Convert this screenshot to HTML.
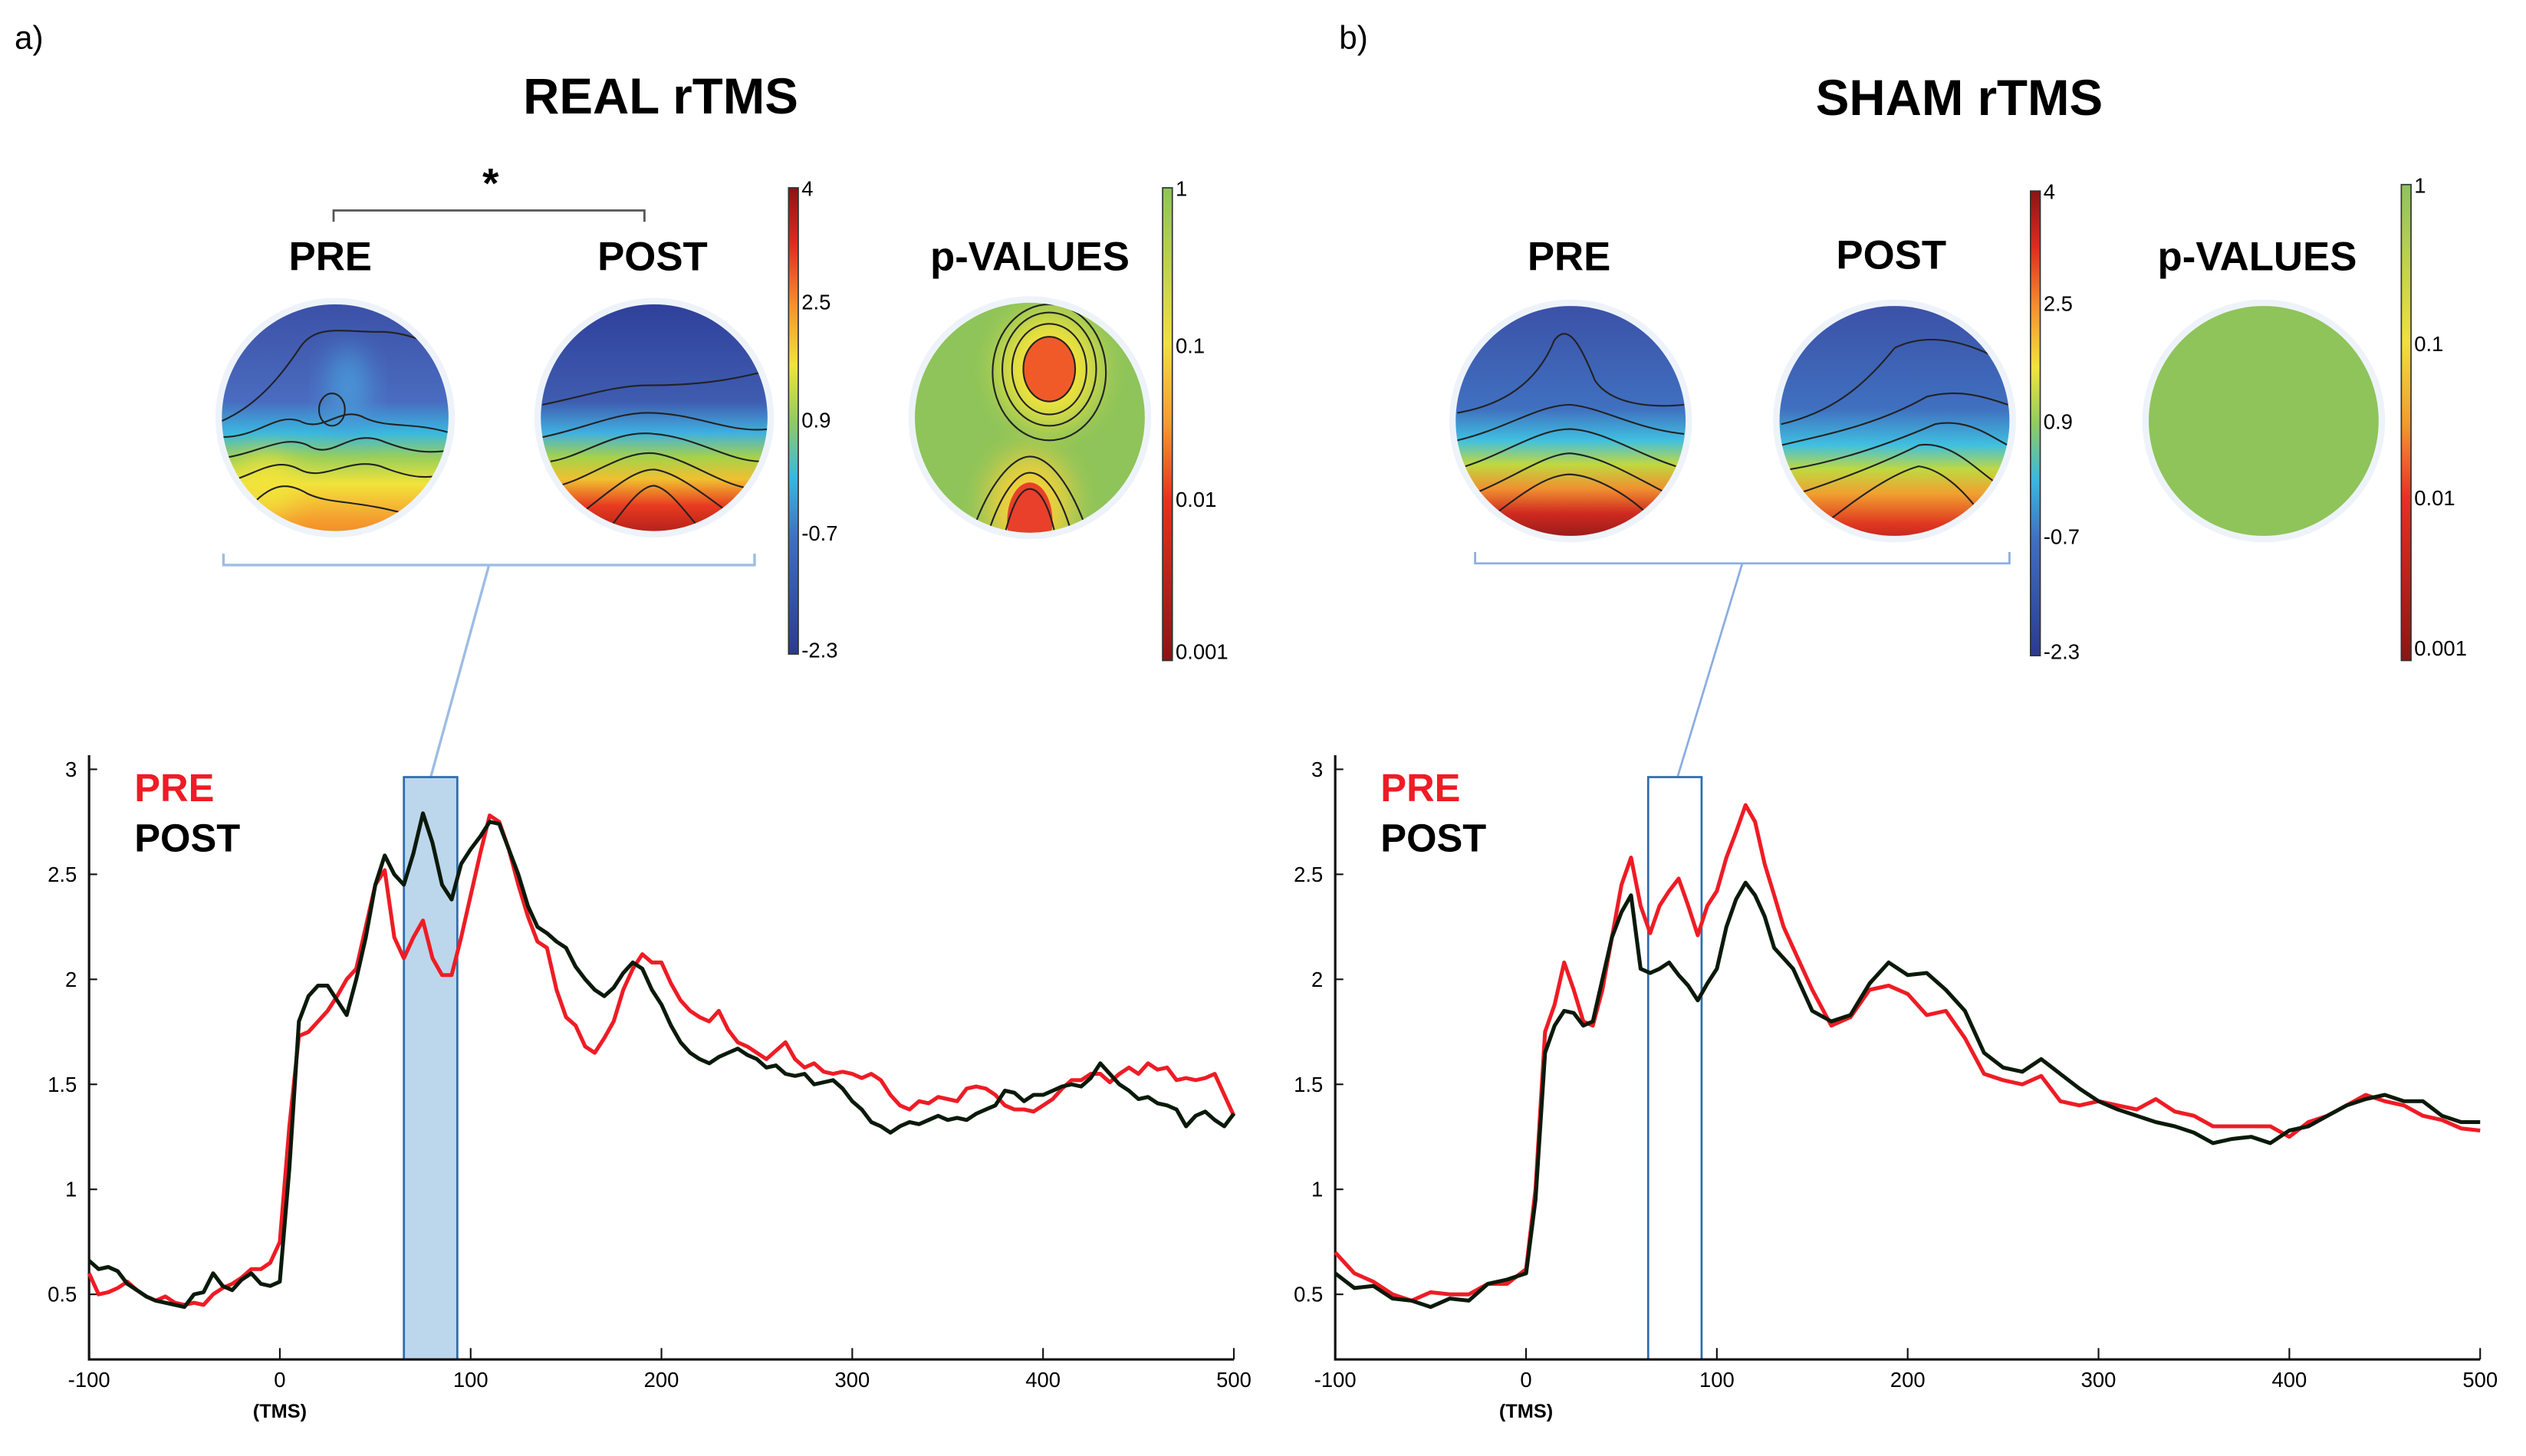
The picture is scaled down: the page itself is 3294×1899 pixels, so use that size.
<!DOCTYPE html>
<html><head><meta charset="utf-8"><style>
html,body{margin:0;padding:0;background:#fff}
svg{display:block}
text{font-family:"Liberation Sans",sans-serif}
</style></head><body>
<svg id="fig" width="3294" height="1899" viewBox="0 0 1560 899.35" xmlns="http://www.w3.org/2000/svg">
<defs>
<filter id="blur" x="-50%" y="-50%" width="200%" height="200%"><feGaussianBlur stdDeviation="9"/></filter>
<linearGradient id="jet" x1="0" y1="0" x2="0" y2="1">
<stop offset="0" stop-color="#8a1515"/><stop offset="0.12" stop-color="#e02a20"/><stop offset="0.25" stop-color="#f59030"/><stop offset="0.38" stop-color="#f2e43a"/><stop offset="0.5" stop-color="#90cc60"/><stop offset="0.62" stop-color="#3ab8e0"/><stop offset="0.75" stop-color="#3f70c0"/><stop offset="1" stop-color="#2a3a90"/></linearGradient>
<linearGradient id="pbar" x1="0" y1="0" x2="0" y2="1">
<stop offset="0" stop-color="#8ec45a"/><stop offset="0.33" stop-color="#f0e040"/><stop offset="0.5" stop-color="#f59a30"/><stop offset="0.66" stop-color="#e83020"/><stop offset="1" stop-color="#8a1515"/></linearGradient>
<linearGradient id="gRPre" x1="0" y1="0" x2="0" y2="1"><stop offset="0" stop-color="#3b4fa5"/><stop offset="0.42" stop-color="#4a6cc0"/><stop offset="0.55" stop-color="#3ab8e0"/><stop offset="0.65" stop-color="#9acf5a"/><stop offset="0.76" stop-color="#f2e33a"/><stop offset="0.9" stop-color="#f5a030"/><stop offset="1" stop-color="#f08020"/></linearGradient>
<linearGradient id="gRPost" x1="0" y1="0" x2="0" y2="1"><stop offset="0" stop-color="#2e3f9a"/><stop offset="0.42" stop-color="#3f5cb0"/><stop offset="0.55" stop-color="#40b0e0"/><stop offset="0.65" stop-color="#a6d24a"/><stop offset="0.74" stop-color="#f0c030"/><stop offset="0.85" stop-color="#e83a20"/><stop offset="1" stop-color="#a01818"/></linearGradient>
<linearGradient id="gSPre" x1="0" y1="0" x2="0" y2="1"><stop offset="0" stop-color="#3b4fa5"/><stop offset="0.45" stop-color="#4070c0"/><stop offset="0.58" stop-color="#40c0e0"/><stop offset="0.68" stop-color="#c0d840"/><stop offset="0.78" stop-color="#f09030"/><stop offset="0.88" stop-color="#d02a20"/><stop offset="1" stop-color="#8c1818"/></linearGradient>
<linearGradient id="gSPost" x1="0" y1="0" x2="0" y2="1"><stop offset="0" stop-color="#3b4fa5"/><stop offset="0.45" stop-color="#4070c0"/><stop offset="0.6" stop-color="#40c0e0"/><stop offset="0.7" stop-color="#c0d840"/><stop offset="0.8" stop-color="#f0a030"/><stop offset="0.92" stop-color="#e03a20"/><stop offset="1" stop-color="#c02020"/></linearGradient>
<clipPath id="c1"><circle cx="207" cy="258" r="70"/></clipPath>
<clipPath id="c2"><circle cx="404" cy="258" r="70"/></clipPath>
<clipPath id="c3"><circle cx="636" cy="258" r="71"/></clipPath>
<clipPath id="c4"><circle cx="970" cy="260" r="71"/></clipPath>
<clipPath id="c5"><circle cx="1170" cy="260" r="71"/></clipPath>
</defs>

<text x="9" y="30" font-size="20">a)</text>
<text x="827" y="30" font-size="20">b)</text>
<text x="408" y="70" font-size="31" font-weight="bold" text-anchor="middle">REAL rTMS</text>
<text x="1210" y="71" font-size="31" font-weight="bold" text-anchor="middle">SHAM rTMS</text>

<text x="303" y="122" font-size="26" font-weight="bold" text-anchor="middle">*</text>
<path d="M206,137 V130 H398 V137" fill="none" stroke="#555" stroke-width="1.3"/>
<text x="204" y="167" font-size="25" font-weight="bold" text-anchor="middle">PRE</text>
<text x="403" y="167" font-size="25" font-weight="bold" text-anchor="middle">POST</text>
<text x="636" y="167" font-size="25" font-weight="bold" text-anchor="middle">p-VALUES</text>

<g>
<circle cx="207" cy="258" r="74" fill="#eef3fa"/>
<g clip-path="url(#c1)"><rect x="130" y="185" width="160" height="150" fill="url(#gRPre)"/>
<ellipse cx="215" cy="240" rx="12" ry="25" fill="#4a9ad8" filter="url(#blur)"/>
<ellipse cx="165" cy="300" rx="18" ry="18" fill="#f2e33a" filter="url(#blur)"/>
<path d="M137,260 C160,250 175,230 185,215 C195,200 210,205 235,205 C255,205 270,215 280,220" fill="none" stroke="#222" stroke-width="1"/>
<path d="M137,270 C160,270 170,255 185,260 C200,268 210,250 225,258 C240,265 255,260 280,268" fill="none" stroke="#222" stroke-width="1"/>
<path d="M137,283 C160,280 175,268 190,275 C205,285 215,265 235,272 C255,280 265,280 280,278" fill="none" stroke="#222" stroke-width="1"/>
<path d="M140,298 C160,292 170,282 185,290 C200,298 215,282 235,288 C255,296 265,296 280,292" fill="none" stroke="#222" stroke-width="1"/>
<path d="M150,318 C165,300 175,296 190,305 C205,312 220,308 260,320" fill="none" stroke="#222" stroke-width="1"/>
<ellipse cx="205" cy="253" rx="8" ry="10" fill="none" stroke="#222" stroke-width="1"/>
</g></g>

<g>
<circle cx="404" cy="258" r="74" fill="#eef3fa"/>
<g clip-path="url(#c2)"><rect x="330" y="185" width="160" height="150" fill="url(#gRPost)"/>
<path d="M335,250 C360,245 380,238 400,238 C430,238 450,235 470,230" fill="none" stroke="#222" stroke-width="1"/>
<path d="M335,270 C360,265 380,255 400,255 C430,255 450,268 475,265" fill="none" stroke="#222" stroke-width="1"/>
<path d="M340,285 C360,282 380,265 404,268 C430,270 450,285 470,285" fill="none" stroke="#222" stroke-width="1"/>
<path d="M345,300 C365,295 385,278 404,280 C425,283 445,300 465,302" fill="none" stroke="#222" stroke-width="1"/>
<path d="M355,320 C375,305 390,290 404,290 C420,292 440,310 455,320" fill="none" stroke="#222" stroke-width="1"/>
<path d="M370,335 C385,315 395,300 404,300 C415,302 425,320 440,335" fill="none" stroke="#222" stroke-width="1"/>
</g></g>

<g>
<circle cx="636" cy="258" r="75" fill="#eef3fa"/>
<g clip-path="url(#c3)"><rect x="560" y="185" width="160" height="150" fill="#8ec45a"/>
<ellipse cx="648" cy="228" rx="30" ry="34" fill="#f2e33a" filter="url(#blur)"/>
<ellipse cx="648" cy="228" rx="16" ry="20" fill="#f05a28"/>
<ellipse cx="636" cy="312" rx="26" ry="32" fill="#f2d03a" filter="url(#blur)"/>
<ellipse cx="636" cy="322" rx="14" ry="24" fill="#e8402a"/>
<ellipse cx="648" cy="228" rx="16" ry="20" fill="none" stroke="#222" stroke-width="1"/>
<ellipse cx="648" cy="228" rx="23" ry="28" fill="none" stroke="#222" stroke-width="1"/>
<ellipse cx="648" cy="228" rx="29" ry="35" fill="none" stroke="#222" stroke-width="1"/>
<ellipse cx="648" cy="230" rx="35" ry="42" fill="none" stroke="#222" stroke-width="1"/>
<path d="M600,330 C610,300 625,282 636,282 C648,282 662,300 672,330" fill="none" stroke="#222" stroke-width="1"/>
<path d="M610,330 C618,305 628,292 636,292 C645,292 655,305 662,330" fill="none" stroke="#222" stroke-width="1"/>
<path d="M620,332 C625,312 630,302 636,302 C642,302 648,312 652,332" fill="none" stroke="#222" stroke-width="1"/>
</g></g>

<rect x="487" y="116" width="6" height="288" fill="url(#jet)" stroke="#333" stroke-width="0.8"/>
<g font-size="13">
<text x="495" y="121">4</text><text x="495" y="191">2.5</text><text x="495" y="264">0.9</text><text x="495" y="334">-0.7</text><text x="495" y="406">-2.3</text></g>
<rect x="718" y="116" width="6" height="292" fill="url(#pbar)" stroke="#333" stroke-width="0.8"/>
<g font-size="13">
<text x="726" y="121">1</text><text x="726" y="218">0.1</text><text x="726" y="313">0.01</text><text x="726" y="407">0.001</text></g>

<text x="969" y="167" font-size="25" font-weight="bold" text-anchor="middle">PRE</text>
<text x="1168" y="166" font-size="25" font-weight="bold" text-anchor="middle">POST</text>
<text x="1394" y="167" font-size="25" font-weight="bold" text-anchor="middle">p-VALUES</text>

<g>
<circle cx="970" cy="260" r="75" fill="#eef3fa"/>
<g clip-path="url(#c4)"><rect x="895" y="185" width="160" height="150" fill="url(#gSPre)"/>
<path d="M900,255 C930,250 950,235 960,210 C968,200 975,210 985,235 C995,250 1020,252 1040,250" fill="none" stroke="#222" stroke-width="1"/>
<path d="M900,272 C930,265 950,250 970,250 C990,252 1010,265 1040,268" fill="none" stroke="#222" stroke-width="1"/>
<path d="M905,288 C930,280 950,265 970,265 C990,266 1010,280 1035,288" fill="none" stroke="#222" stroke-width="1"/>
<path d="M910,305 C935,295 955,280 970,280 C990,282 1010,295 1030,305" fill="none" stroke="#222" stroke-width="1"/>
<path d="M920,320 C940,305 955,293 970,293 C985,294 1005,305 1020,320" fill="none" stroke="#222" stroke-width="1"/>
</g></g>

<g>
<circle cx="1170" cy="260" r="75" fill="#eef3fa"/>
<g clip-path="url(#c5)"><rect x="1095" y="185" width="160" height="150" fill="url(#gSPost)"/>
<path d="M1100,262 C1130,255 1150,240 1170,215 C1190,205 1215,210 1240,225" fill="none" stroke="#222" stroke-width="1"/>
<path d="M1100,275 C1130,268 1160,262 1190,245 C1210,240 1225,245 1240,250" fill="none" stroke="#222" stroke-width="1"/>
<path d="M1105,290 C1135,285 1165,275 1195,262 C1215,258 1230,270 1240,275" fill="none" stroke="#222" stroke-width="1"/>
<path d="M1110,305 C1140,295 1165,285 1185,275 C1205,272 1220,290 1235,300" fill="none" stroke="#222" stroke-width="1"/>
<path d="M1125,325 C1150,305 1170,292 1185,288 C1200,290 1215,305 1225,320" fill="none" stroke="#222" stroke-width="1"/>
</g></g>

<g>
<circle cx="1398" cy="260" r="75" fill="#eef3fa"/>
<circle cx="1398" cy="260" r="71" fill="#8ec45a"/>
</g>

<rect x="1254" y="118" width="6" height="287" fill="url(#jet)" stroke="#333" stroke-width="0.8"/>
<g font-size="13">
<text x="1262" y="123">4</text><text x="1262" y="192">2.5</text><text x="1262" y="265">0.9</text><text x="1262" y="336">-0.7</text><text x="1262" y="407">-2.3</text></g>
<rect x="1483" y="114" width="6" height="294" fill="url(#pbar)" stroke="#333" stroke-width="0.8"/>
<g font-size="13">
<text x="1491" y="119">1</text><text x="1491" y="217">0.1</text><text x="1491" y="312">0.01</text><text x="1491" y="405">0.001</text></g>

<path d="M138,342 V349 H466 V342 M302,349 L266,480" fill="none" stroke="#9dbde3" stroke-width="1.6"/>
<path d="M911,341 V348 H1241 V341 M1076,348 L1036,480" fill="none" stroke="#8aaee0" stroke-width="1.3"/>

<g id="plotA"></g>
<g id="plotB"></g>
</svg>
<script>
const NS="http://www.w3.org/2000/svg";
const realTimes=[];for(let t=-100;t<=500;t+=5)realTimes.push(t);
const realPre=[0.60,0.50,0.51,0.53,0.56,0.52,0.49,0.47,0.49,0.46,0.45,0.46,0.45,0.50,0.53,0.55,0.58,0.62,0.62,0.65,0.75,1.3,1.73,1.75,1.80,1.85,1.92,2.0,2.05,2.25,2.45,2.52,2.2,2.1,2.2,2.28,2.1,2.02,2.02,2.2,2.4,2.6,2.78,2.75,2.62,2.45,2.3,2.18,2.15,1.95,1.82,1.78,1.68,1.65,1.72,1.80,1.95,2.05,2.12,2.08,2.08,1.98,1.90,1.85,1.82,1.80,1.85,1.76,1.70,1.68,1.65,1.62,1.66,1.70,1.62,1.58,1.60,1.56,1.55,1.56,1.55,1.53,1.55,1.52,1.45,1.40,1.38,1.42,1.41,1.44,1.43,1.42,1.48,1.49,1.48,1.45,1.40,1.38,1.38,1.37,1.40,1.43,1.48,1.52,1.52,1.55,1.55,1.51,1.55,1.58,1.55,1.60,1.57,1.58,1.52,1.53,1.52,1.53,1.55,1.45,1.35];
const realPost=[0.66,0.62,0.63,0.61,0.55,0.52,0.49,0.47,0.46,0.45,0.44,0.50,0.51,0.60,0.54,0.52,0.57,0.60,0.55,0.54,0.56,1.1,1.80,1.92,1.97,1.97,1.90,1.83,2.0,2.2,2.45,2.59,2.5,2.45,2.6,2.79,2.65,2.45,2.38,2.55,2.62,2.68,2.75,2.74,2.62,2.5,2.35,2.25,2.22,2.18,2.15,2.06,2.0,1.95,1.92,1.96,2.03,2.08,2.05,1.95,1.88,1.78,1.70,1.65,1.62,1.60,1.63,1.65,1.67,1.64,1.62,1.58,1.59,1.55,1.54,1.55,1.50,1.51,1.52,1.48,1.42,1.38,1.32,1.30,1.27,1.30,1.32,1.31,1.33,1.35,1.33,1.34,1.33,1.36,1.38,1.40,1.47,1.46,1.42,1.45,1.45,1.47,1.49,1.50,1.49,1.53,1.60,1.55,1.50,1.47,1.43,1.44,1.41,1.40,1.38,1.30,1.35,1.37,1.33,1.30,1.36];
const shamTimes=[-100,-90,-80,-70,-60,-50,-40,-30,-20,-10,0,5,10,15,20,25,30,35,40,45,50,55,60,65,70,75,80,85,90,95,100,105,110,115,120,125,130,135,140,150,160,170,180,190,200,210,220,230,240,250,260,270,280,290,300,310,320,330,340,350,360,370,380,390,400,410,420,430,440,450,460,470,480,490,500];
const shamPre=[0.70,0.60,0.56,0.50,0.47,0.51,0.50,0.50,0.55,0.55,0.62,1.0,1.75,1.88,2.08,1.95,1.80,1.78,1.95,2.2,2.45,2.58,2.35,2.22,2.35,2.42,2.48,2.35,2.21,2.35,2.42,2.58,2.70,2.83,2.75,2.55,2.40,2.25,2.15,1.95,1.78,1.82,1.95,1.97,1.93,1.83,1.85,1.72,1.55,1.52,1.50,1.54,1.42,1.40,1.42,1.40,1.38,1.43,1.37,1.35,1.30,1.30,1.30,1.30,1.25,1.32,1.35,1.40,1.45,1.42,1.40,1.35,1.33,1.29,1.28];
const shamPost=[0.60,0.53,0.54,0.48,0.47,0.44,0.48,0.47,0.55,0.57,0.60,0.95,1.65,1.78,1.85,1.84,1.78,1.80,2.0,2.2,2.32,2.40,2.05,2.03,2.05,2.08,2.02,1.97,1.90,1.98,2.05,2.25,2.38,2.46,2.40,2.30,2.15,2.10,2.05,1.85,1.80,1.83,1.98,2.08,2.02,2.03,1.95,1.85,1.65,1.58,1.56,1.62,1.55,1.48,1.42,1.38,1.35,1.32,1.30,1.27,1.22,1.24,1.25,1.22,1.28,1.30,1.35,1.40,1.43,1.45,1.42,1.42,1.35,1.32,1.32];
const xTicks=[-100,0,100,200,300,400,500];
const yTicks=[0.5,1,1.5,2,2.5,3];
const realWindow=[65,93];
const shamWindow=[64,92];

function el(tag,attrs,parent){const e=document.createElementNS(NS,tag);for(const k in attrs)e.setAttribute(k,attrs[k]);parent.appendChild(e);return e;}

function drawPlot(g,left,right,times,pre,post,win,filled){
  const x=v=>left+(v+100)/600*(right-left);
  const y=v=>799.5-(v-0.5)/2.5*324.3;
  const axisY=839.7;
  const box=el('rect',{x:x(win[0]),y:480,width:x(win[1])-x(win[0]),height:axisY-480,fill:filled?'#bcd6ec':'none',stroke:'#2e6db0','stroke-width':1.3},g);
  
  
  const ax=el('path',{d:`M${left},466.5 V${axisY} H${right}`,fill:'none',stroke:'#111','stroke-width':1.5},g);
  
  
  yTicks.forEach(t=>{
    el('line',{x1:left,x2:left+5,y1:y(t),y2:y(t),stroke:'#111','stroke-width':1},g);
    const tx=el('text',{x:left-7.5,y:y(t)+4.5,'font-size':13,'text-anchor':'end'},g);
    tx.textContent=String(t);
    
    
  });
  xTicks.forEach(t=>{
    el('line',{x1:x(t),x2:x(t),y1:axisY,y2:axisY-7,stroke:'#111','stroke-width':1},g);
    const tx=el('text',{x:x(t),y:axisY+17,'font-size':13,'text-anchor':'middle'},g);
    tx.textContent=String(t);
    
    
  });
  const tms=el('text',{x:x(0),y:axisY+36,'font-size':12,'font-weight':'bold','text-anchor':'middle'},g);
  tms.textContent='(TMS)';
  
  
  const mk=arr=>arr.map((v,i)=>(i?'L':'M')+x(times[i]).toFixed(1)+','+y(v).toFixed(1)).join(' ');
  const lp=el('path',{d:mk(pre),fill:'none',stroke:'#ee1c25','stroke-width':2.4,'stroke-linejoin':'round'},g);
  
  
  const lq=el('path',{d:mk(post),fill:'none',stroke:'#0a1a0a','stroke-width':2.4,'stroke-linejoin':'round'},g);
  
  
  const l1=el('text',{x:left+28,y:495,'font-size':24,'font-weight':'bold',fill:'#ee1c25'},g);
  l1.textContent='PRE';
  
  
  const l2=el('text',{x:left+28,y:526,'font-size':24,'font-weight':'bold',fill:'#000'},g);
  l2.textContent='POST';
  
  
}
const gA=document.getElementById('plotA');


const gB=document.getElementById('plotB');


drawPlot(gA,55,762,realTimes,realPre,realPost,realWindow,true);
drawPlot(gB,824.6,1531.7,shamTimes,shamPre,shamPost,shamWindow,false);
</script>
</body></html>
